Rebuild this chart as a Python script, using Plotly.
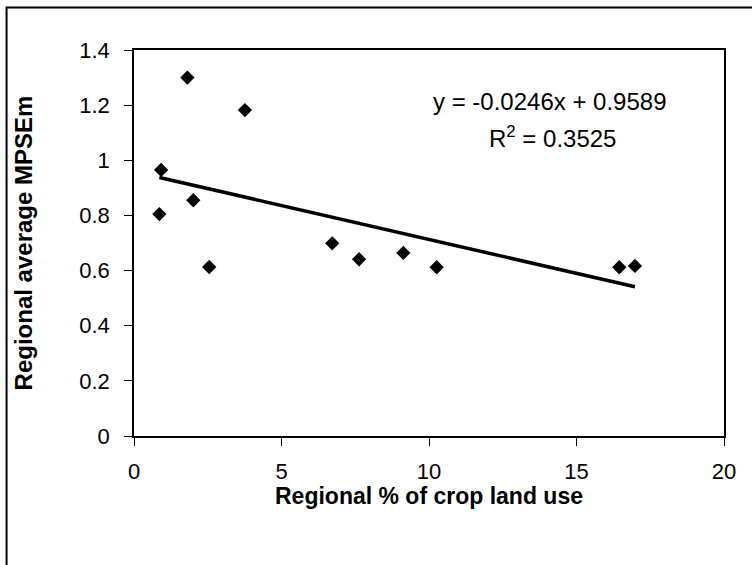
import plotly.graph_objects as go

# Data
crop_land_pct = [0.86, 0.92, 1.81, 2.01, 2.55, 3.76, 6.72, 7.63, 9.13, 10.26, 16.45, 16.98]
avg_mpsem = [0.805, 0.965, 1.300, 0.855, 0.613, 1.182, 0.699, 0.641, 0.664, 0.612, 0.612, 0.617]

trend_slope = -0.0246
trend_intercept = 0.9589
r_squared = 0.3525

x_ticks = [0, 5, 10, 15, 20]
y_ticks = [0, 0.2, 0.4, 0.6, 0.8, 1, 1.2, 1.4]
y_tick_text = ["0", "0.2", "0.4", "0.6", "0.8", "1", "1.2", "1.4"]

x_title = "Regional % of crop land use"
y_title = "Regional average MPSEm"

trend_x = [min(crop_land_pct), max(crop_land_pct)]
trend_y = [trend_slope * v + trend_intercept for v in trend_x]

FONT = "Liberation Sans, Arial, sans-serif"

fig = go.Figure()
fig.add_trace(go.Scatter(
    x=trend_x, y=trend_y, mode="lines",
    line=dict(color="black", width=3.5),
    showlegend=False, hoverinfo="skip",
))
fig.add_trace(go.Scatter(
    x=crop_land_pct, y=avg_mpsem, mode="markers",
    marker=dict(symbol="diamond", size=11, color="black"),
    showlegend=False,
))

fig.add_annotation(
    x=14.1, y=1.215, xref="x", yref="y", showarrow=False,
    text=f"y = {trend_slope:.4f}x + {trend_intercept:.4f}",
    font=dict(family=FONT, size=24, color="black"),
)
fig.add_annotation(
    x=14.2, y=1.085, xref="x", yref="y", showarrow=False,
    text=f"R<sup>2</sup> = {r_squared:.4f}",
    font=dict(family=FONT, size=24, color="black"),
)
# x-axis title
fig.add_annotation(
    x=0.5, y=-0.155, xref="paper", yref="paper", showarrow=False,
    xanchor="center", yanchor="middle",
    text=f"<b>{x_title}</b>",
    font=dict(family=FONT, size=23, color="black"),
)

# outer frame
fig.add_shape(
    type="rect", xref="paper", yref="paper",
    x0=-0.216, x1=1.07, y0=-0.40, y1=1.110,
    line=dict(color="black", width=2), fillcolor="rgba(0,0,0,0)",
    layer="below",
)

fig.update_layout(
    width=752, height=565,
    margin=dict(l=134, r=28, t=50, b=129),
    paper_bgcolor="white", plot_bgcolor="white",
    font=dict(family=FONT, color="black", size=22),
    showlegend=False,
)
fig.update_xaxes(
    range=[0, 20], tickvals=x_ticks, ticktext=[str(v) for v in x_ticks],
    showgrid=False, zeroline=False,
    showline=True, linecolor="black", linewidth=1.5, mirror=True,
    ticks="outside", ticklen=8, tickcolor="black", tickwidth=1,
    ticklabelstandoff=7,
    tickfont=dict(family=FONT, size=22),
)
fig.update_yaxes(
    range=[0, 1.4], tickvals=y_ticks, ticktext=y_tick_text,
    showgrid=False, zeroline=False,
    showline=True, linecolor="black", linewidth=1.5, mirror=True,
    ticks="outside", ticklen=8, tickcolor="black", tickwidth=1,
    ticklabelstandoff=10,
    tickfont=dict(family=FONT, size=22),
    title=dict(text=f"<b>{y_title}</b>", font=dict(family=FONT, size=24), standoff=40),
)

fig.write_html("out.html")
